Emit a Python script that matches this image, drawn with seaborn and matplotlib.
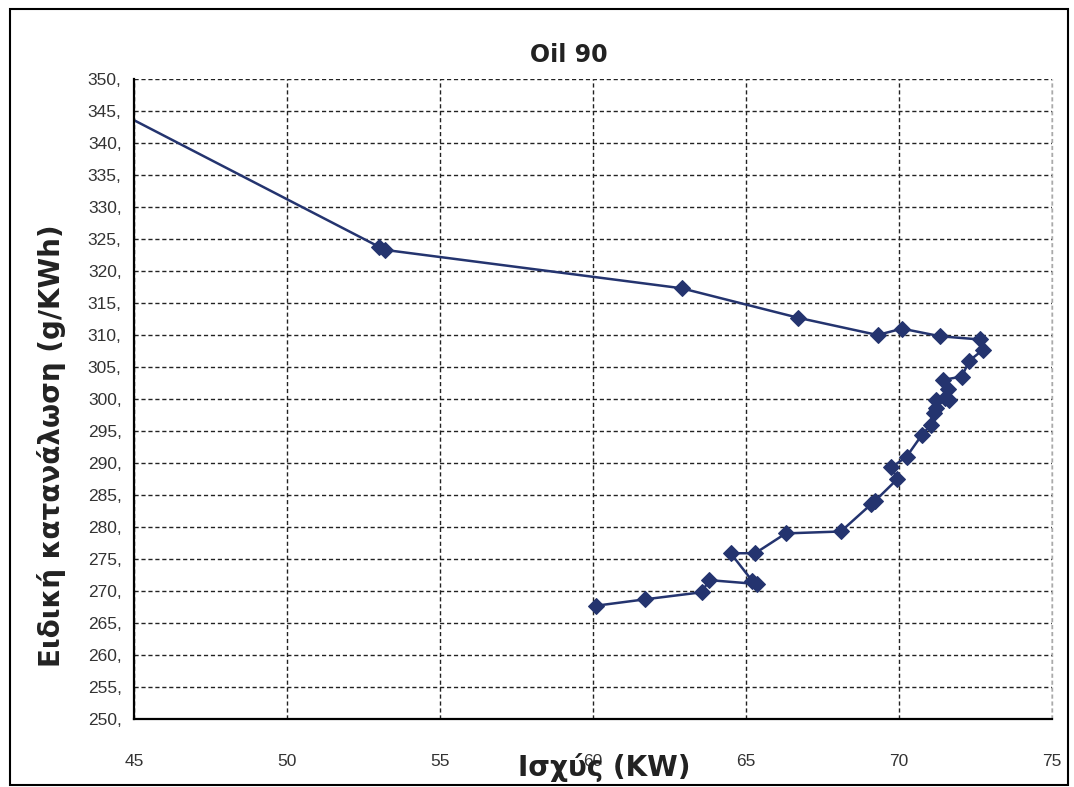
import matplotlib
matplotlib.use("Agg")
import matplotlib.pyplot as plt
import seaborn as sns
import pandas as pd
from matplotlib.patches import Rectangle

# Power (kW) and specific fuel consumption (g/kWh), in measurement order
power_kw = [44.5, 53.0, 53.2, 62.9, 66.7, 69.3, 70.1, 71.35, 72.65, 72.75,
            72.3, 72.05, 71.45, 71.6, 71.5, 71.65, 71.2, 71.2, 71.15, 71.05,
            70.75, 70.25, 69.75, 69.95, 69.2, 69.1, 68.1, 66.3, 65.3, 64.5,
            65.2, 65.35, 63.8, 63.55, 61.7, 60.1]
sfc_g_kwh = [344.8, 323.8, 323.3, 317.3, 312.7, 310.0, 311.0, 309.8, 309.3, 307.7,
             306.0, 303.5, 303.0, 301.5, 300.2, 299.8, 299.8, 298.6, 297.8, 296.0,
             294.4, 291.0, 289.3, 287.5, 284.0, 283.6, 279.3, 279.0, 275.9, 275.9,
             271.6, 271.1, 271.7, 269.8, 268.7, 267.7]

x_ticks = [45, 50, 55, 60, 65, 70, 75]
y_ticks = list(range(250, 351, 5))
y_tick_labels = [f"{v}," for v in y_ticks]

df = pd.DataFrame({"power": power_kw, "sfc": sfc_g_kwh})

sns.set_style("white")
plt.rcParams["font.family"] = ["Liberation Sans", "DejaVu Sans"]

fig = plt.figure(figsize=(10.74, 7.87), dpi=100)
ax = fig.add_axes([0.1248, 0.0864, 0.8547, 0.8132])

line_color = "#24346f"
sns.lineplot(data=df, x="power", y="sfc", sort=False, estimator=None,
             marker="D", markersize=8, color=line_color, linewidth=1.8,
             markeredgecolor=line_color, ax=ax)

ax.set_xlim(45, 75)
ax.set_ylim(250, 350)
ax.set_xticks(x_ticks)
ax.set_yticks(y_ticks)
ax.set_yticklabels(y_tick_labels)
ax.tick_params(axis="both", direction="out", length=5, width=1, color="black",
               labelsize=12.5, labelcolor="#333333")
ax.tick_params(axis="x", pad=20)
ax.tick_params(axis="y", pad=4)

ax.grid(True, which="major", color="#222222", linestyle=(0, (3, 2)), linewidth=1.0)
ax.set_axisbelow(True)

for side in ("top", "right"):
    ax.spines[side].set_visible(False)
ax.spines["left"].set_color("black")
ax.spines["left"].set_linewidth(1.6)
ax.spines["bottom"].set_color("black")
ax.spines["bottom"].set_linewidth(1.6)
ax.axvline(75, color="#aaaaaa", linestyle=(0, (3, 2)), linewidth=1.0, clip_on=False)

ax.set_xlabel("")
ax.set_ylabel("")

heading_font = ["DejaVu Sans"]
fig.text(569 / 1074, 1 - 55 / 787, "Oil 90", ha="center", va="center",
         fontsize=17, fontweight="bold", color="#222222", family=heading_font)
fig.text(52 / 1074, 1 - 446 / 787, "Ειδική κατανάλωση (g/KWh)", ha="center",
         va="center", rotation=90, fontsize=20, fontweight="bold", color="#222222",
         family=heading_font)
fig.text(604 / 1074, 1 - 768 / 787, "Ισχύς (KW)", ha="center", va="center",
         fontsize=20, fontweight="bold", color="#222222", family=heading_font)

# Outer frame around the figure
fig.patches.append(Rectangle((10 / 1074, 2 / 787), 1058 / 1074, 776 / 787,
                             transform=fig.transFigure, fill=False,
                             edgecolor="black", linewidth=1.5))

fig.savefig("out.png", dpi=100)
